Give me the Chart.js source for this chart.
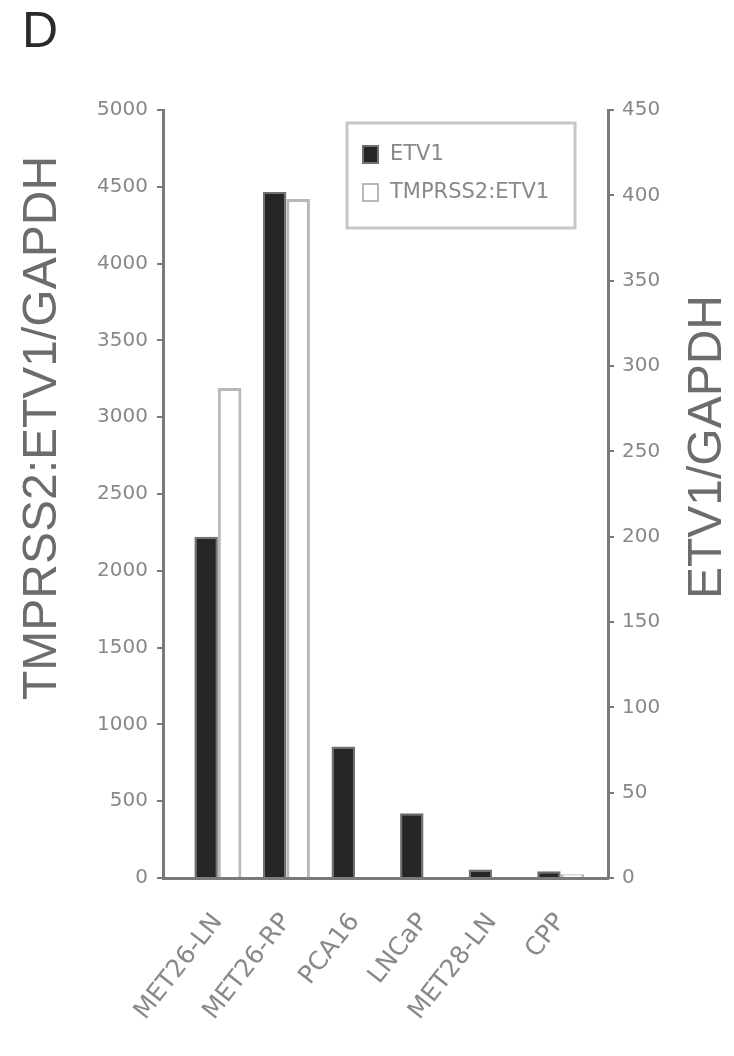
<!DOCTYPE html>
<html>
<head>
<meta charset="utf-8">
<script src="https://cdn.jsdelivr.net/npm/chart.js@4/dist/chart.umd.min.js"></script>
<style>
  html, body { margin: 0; padding: 0; background: #fff; }
  canvas { display: block; }
</style>
</head>
<body>
<canvas id="etv1Chart" width="734" height="1056"></canvas>
<script>
const categories = ['MET26-LN', 'MET26-RP', 'PCA16', 'LNCaP', 'MET28-LN', 'CPP'];
const etv1 = [200, 402, 77, 38, 5, 4];            // ETV1/GAPDH (right axis)
const tmprssEtv1 = [3190, 4420, 0, 0, 0, 25];     // TMPRSS2:ETV1/GAPDH (left axis)
const leftTicks = [0, 500, 1000, 1500, 2000, 2500, 3000, 3500, 4000, 4500, 5000];
const rightTicks = [0, 50, 100, 150, 200, 250, 300, 350, 400, 450];
const leftTitle = 'TMPRSS2:ETV1/GAPDH';
const rightTitle = 'ETV1/GAPDH';

const axisGrey = '#7a7a7a';
const labelGrey = '#888888';
const tickFont = { family: '"DejaVu Sans", sans-serif', size: 20 };

// vertical axis titles, both read bottom to top
const axisTitles = {
  id: 'axisTitles',
  afterDraw(chart) {
    const { ctx, chartArea } = chart;
    const spots = [[leftTitle, 43, chartArea.top + 318], [rightTitle, chartArea.right + 100, chartArea.top + 337]];
    spots.forEach(([text, x, y]) => {
      ctx.save();
      ctx.fillStyle = '#6c6c6c';
      ctx.font = '48px "Liberation Sans", Arial, sans-serif';
      ctx.textAlign = 'center';
      ctx.textBaseline = 'middle';
      ctx.translate(x, y);
      ctx.rotate(-Math.PI / 2);
      ctx.fillText(text, 0, 0);
      ctx.restore();
    });
  }
};

// boxed legend in the upper right of the plot
const boxedLegend = {
  id: 'boxedLegend',
  afterDraw(chart) {
    const { ctx, chartArea } = chart;
    const w = 228, h = 105;
    const x0 = chartArea.right - 33 - w;
    const y0 = chartArea.top + 13;
    ctx.save();
    ctx.strokeStyle = '#c6c6c6';
    ctx.lineWidth = 3;
    ctx.strokeRect(x0, y0, w, h);
    ctx.font = '21px "DejaVu Sans", sans-serif';
    ctx.textBaseline = 'middle';
    chart.data.datasets.forEach((ds, i) => {
      const cy = y0 + 32 + i * 38;
      ctx.fillStyle = ds.backgroundColor;
      ctx.fillRect(x0 + 16, cy - 9, 15, 17);
      ctx.strokeStyle = ds.borderColor;
      ctx.lineWidth = 2;
      ctx.strokeRect(x0 + 16, cy - 9, 15, 17);
      ctx.fillStyle = labelGrey;
      ctx.fillText(ds.label, x0 + 43, cy);
    });
    ctx.restore();
  }
};

new Chart(document.getElementById('etv1Chart'), {
  type: 'bar',
  data: {
    datasets: [{
      label: 'ETV1',
      data: etv1.map((v, i) => ({ x: i, y: v })),
      yAxisID: 'yR',
      backgroundColor: '#262626',
      borderColor: '#707070',
      borderWidth: 2
    }, {
      label: 'TMPRSS2:ETV1',
      data: tmprssEtv1.map((v, i) => ({ x: i, y: v })),
      yAxisID: 'y',
      backgroundColor: '#ffffff',
      borderColor: '#b8b8b8',
      borderWidth: 3
    }]
  },
  options: {
    responsive: false,
    animation: false,
    categoryPercentage: 0.685,
    barPercentage: 1.0,
    layout: { padding: { left: 22, top: 0, right: 0, bottom: 0 } },
    plugins: {
      legend: { display: false },
      tooltip: { enabled: false },
      title: {
        display: true,
        text: 'D',
        align: 'start',
        color: '#2a2a2a',
        font: { family: '"Liberation Sans", Arial, sans-serif', size: 50, weight: 'normal', lineHeight: 1 },
        padding: { top: 8, bottom: 52 }
      }
    },
    scales: {
      x: {
        type: 'linear',
        offset: false,
        min: -0.8,
        max: 5.69,
        afterBuildTicks: s => { s.ticks = categories.map((c, i) => ({ value: i })); },
        afterFit: s => { s.height = 178; },
        grid: { display: false, drawTicks: false },
        border: { display: true, color: axisGrey, width: 3 },
        ticks: {
          autoSkip: false,
          minRotation: 52,
          maxRotation: 52,
          padding: 30,
          color: labelGrey,
          font: { family: '"DejaVu Sans", sans-serif', size: 25 },
          callback: v => categories[v] ?? ''
        }
      },
      y: {
        position: 'left',
        min: 0,
        max: 5000,
        afterBuildTicks: s => { s.ticks = leftTicks.map(v => ({ value: v })); },
        afterFit: s => { s.width = 141; },
        grid: { drawOnChartArea: false, tickLength: 6, color: axisGrey, lineWidth: 2 },
        border: { display: true, color: axisGrey, width: 3 },
        ticks: { padding: 9, color: labelGrey, font: tickFont, callback: v => String(v) }
      },
      yR: {
        position: 'right',
        min: 0,
        max: 450,
        afterBuildTicks: s => { s.ticks = rightTicks.map(v => ({ value: v })); },
        afterFit: s => { s.width = 126; },
        grid: { drawOnChartArea: false, tickLength: 6, color: axisGrey, lineWidth: 2 },
        border: { display: true, color: axisGrey, width: 3 },
        ticks: { padding: 8, color: labelGrey, font: tickFont, callback: v => String(v) }
      }
    }
  },
  plugins: [axisTitles, boxedLegend]
});
</script>
</body>
</html>
